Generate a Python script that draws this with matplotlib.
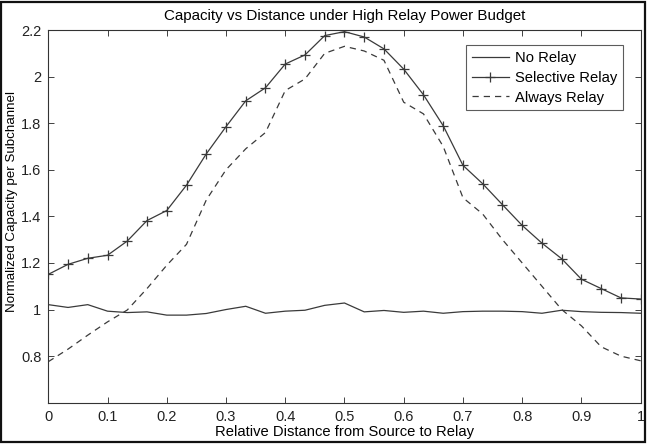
import matplotlib
matplotlib.use("Agg")
import matplotlib.pyplot as plt
from matplotlib.patches import Rectangle

x = [k / 30 for k in range(31)]

no_relay = [1.021, 1.009, 1.021, 0.993, 0.987, 0.990, 0.976, 0.976, 0.983, 1.000,
            1.014, 0.984, 0.993, 0.997, 1.018, 1.028, 0.990, 0.996, 0.988, 0.993,
            0.984, 0.991, 0.993, 0.993, 0.991, 0.984, 0.997, 0.991, 0.988, 0.987,
            0.984]

selective_relay = [1.151, 1.194, 1.220, 1.233, 1.294, 1.382, 1.425, 1.534, 1.668, 1.785,
                   1.896, 1.952, 2.054, 2.093, 2.176, 2.193, 2.170, 2.119, 2.032, 1.922,
                   1.789, 1.619, 1.540, 1.450, 1.361, 1.285, 1.218, 1.130, 1.090, 1.050,
                   1.045]

always_relay = [0.776, 0.830, 0.890, 0.947, 0.998, 1.090, 1.190, 1.280, 1.470, 1.600,
                1.690, 1.760, 1.940, 1.990, 2.100, 2.130, 2.110, 2.070, 1.890, 1.840,
                1.700, 1.480, 1.410, 1.300, 1.200, 1.100, 1.000, 0.930, 0.840, 0.800,
                0.780]

xticks = [0, 0.1, 0.2, 0.3, 0.4, 0.5, 0.6, 0.7, 0.8, 0.9, 1]
xticklabels = ["0", "0.1", "0.2", "0.3", "0.4", "0.5", "0.6", "0.7", "0.8", "0.9", "1"]
yticks = [0.8, 1.0, 1.2, 1.4, 1.6, 1.8, 2.0, 2.2]
yticklabels = ["0.8", "1", "1.2", "1.4", "1.6", "1.8", "2", "2.2"]

plt.rcParams['font.family'] = ['Liberation Sans', 'DejaVu Sans']

fig = plt.figure(figsize=(6.48, 4.44), dpi=100)
ax = fig.add_axes([0.0745, 0.093, 0.9142, 0.8394])

lc = '#3a3a3a'
ax.plot(x, no_relay, '-', color=lc, lw=0.9, label='No Relay')
ax.plot(x, selective_relay, '-', color=lc, lw=0.9, marker='+', markersize=7,
        markeredgewidth=0.9, label='Selective Relay')
ax.plot(x, always_relay, '--', color=lc, lw=0.9, dashes=(5, 4), label='Always Relay')

ax.set_xlim(0, 1)
ax.set_ylim(0.6, 2.2)
ax.set_xticks(xticks)
ax.set_xticklabels(xticklabels)
ax.set_yticks(yticks)
ax.set_yticklabels(yticklabels)
ax.tick_params(direction='in', top=True, right=True, labelsize=10.5, length=4,
               width=0.6, colors='#222222', pad=5)
for s in ax.spines.values():
    s.set_linewidth(0.8)
    s.set_color('#333333')

ax.set_title('Capacity vs Distance under High Relay Power Budget', fontsize=10.9, pad=7)
ax.set_xlabel('Relative Distance from Source to Relay', fontsize=10.6, labelpad=1)
ax.set_ylabel('Normalized Capacity per Subchannel', fontsize=9.6, labelpad=5)
ax.yaxis.set_label_coords(-0.051, 0.54)

leg = ax.legend(loc='upper right', bbox_to_anchor=(0.9706, 0.960), fontsize=10.6,
                frameon=True, fancybox=False, edgecolor='#333333',
                handlelength=2.55, borderpad=0.4, labelspacing=0.4, handletextpad=0.4,
                borderaxespad=0.0)
leg.get_frame().set_linewidth(0.8)

fig.patches.append(Rectangle((0.002, 0.004), 0.994, 0.991, transform=fig.transFigure,
                             fill=False, edgecolor='#111111', linewidth=1.6))

fig.savefig('out.png', dpi=100)
